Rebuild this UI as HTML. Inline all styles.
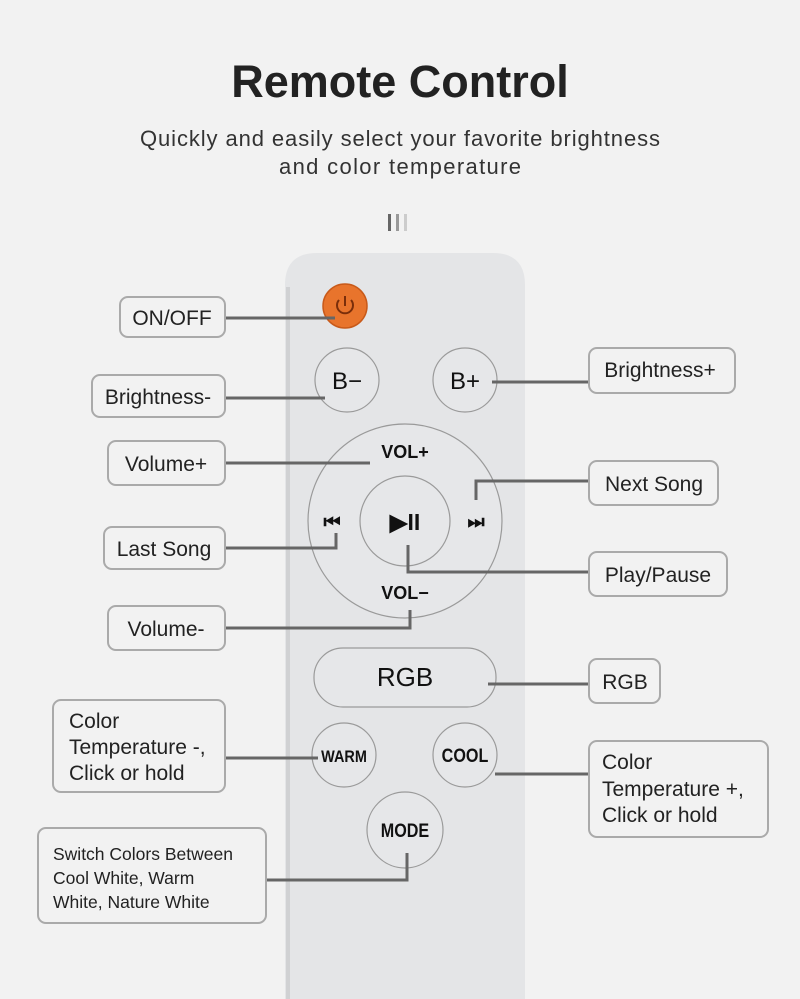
<!DOCTYPE html>
<html><head><meta charset="utf-8"><style>
body{margin:0;background:#f2f2f2;}
svg{display:block}
text{font-family:"Liberation Sans",sans-serif;}
</style></head><body>
<svg width="800" height="999" viewBox="0 0 800 999" xmlns="http://www.w3.org/2000/svg">
<rect width="800" height="999" fill="#f2f2f2"/>
<text x="400" y="97" text-anchor="middle" font-size="45" font-weight="bold" fill="#222">Remote Control</text>
<text x="400" y="146" text-anchor="middle" font-size="22" fill="#333" textLength="520" lengthAdjust="spacing">Quickly and easily select your favorite brightness</text>
<text x="400" y="174" text-anchor="middle" font-size="22" fill="#333" textLength="242" lengthAdjust="spacing">and color temperature</text>
<rect x="388" y="214" width="3" height="17" fill="#666"/><rect x="396" y="214" width="3" height="17" fill="#999"/><rect x="404" y="214" width="3" height="17" fill="#ccc"/>
<path d="M285 1000 V285 Q285 253 317 253 H493 Q525 253 525 285 V1000 Z" fill="#e4e5e7"/>
<path d="M288 1000 V287" stroke="#d0d1d3" stroke-width="4"/>
<circle cx="345" cy="306" r="22" fill="#e8742c" stroke="#c85a1a" stroke-width="1.5"/>
<path d="M339 300 A8 8 0 1 0 351 300" fill="none" stroke="#7a2e0a" stroke-width="2"/><line x1="345" y1="296" x2="345" y2="306" stroke="#7a2e0a" stroke-width="2"/>
<g fill="#e6e7e9" stroke="#9a9a9a" stroke-width="1.2">
<circle cx="347" cy="380" r="32"/><circle cx="465" cy="380" r="32"/>
<circle cx="405" cy="521" r="97"/><circle cx="405" cy="521" r="45"/>
<rect x="314" y="648" width="182" height="59" rx="29"/>
<circle cx="344" cy="755" r="32"/><circle cx="465" cy="755" r="32"/><circle cx="405" cy="830" r="38"/>
</g>
<g fill="#111" text-anchor="middle" font-weight="bold">
<text x="347" y="389" font-size="24" font-weight="normal">B−</text>
<text x="465" y="389" font-size="24" font-weight="normal">B+</text>
<text x="405" y="458" font-size="18">VOL+</text>
<text x="405" y="599" font-size="18">VOL−</text>
<text x="332" y="528" font-size="19">⏮</text>
<text x="476" y="528" font-size="19">⏭</text>
<text x="405" y="530" font-size="23">▶II</text>
<text x="405" y="686" font-size="26" font-weight="normal">RGB</text>
<text x="344" y="762" font-size="17" transform="translate(344 0) scale(0.85 1) translate(-344 0)">WARM</text>
<text x="465" y="762" font-size="19" transform="translate(465 0) scale(0.85 1) translate(-465 0)">COOL</text>
<text x="405" y="837" font-size="19" transform="translate(405 0) scale(0.85 1) translate(-405 0)">MODE</text>
</g>
<g stroke="#666" stroke-width="3" fill="none">
<path d="M225 318 H335"/>
<path d="M225 398 H325"/>
<path d="M492 382 H589"/>
<path d="M225 463 H370"/>
<path d="M589 481 H476 V500"/>
<path d="M225 548 H336 V533"/>
<path d="M589 572 H408 V545"/>
<path d="M225 628 H410 V610"/>
<path d="M488 684 H589"/>
<path d="M225 758 H318"/>
<path d="M495 774 H589"/>
<path d="M266 880 H407 V853"/>
</g>
<g fill="#f2f2f2" stroke="#aaa" stroke-width="2">
<rect x="120" y="297" width="105" height="40" rx="8"/>
<rect x="92" y="375" width="133" height="42" rx="8"/>
<rect x="589" y="348" width="146" height="45" rx="8"/>
<rect x="108" y="441" width="117" height="44" rx="8"/>
<rect x="589" y="461" width="129" height="44" rx="8"/>
<rect x="104" y="527" width="121" height="42" rx="8"/>
<rect x="589" y="552" width="138" height="44" rx="8"/>
<rect x="108" y="606" width="117" height="44" rx="8"/>
<rect x="589" y="659" width="71" height="44" rx="8"/>
<rect x="53" y="700" width="172" height="92" rx="8"/>
<rect x="589" y="741" width="179" height="96" rx="8"/>
<rect x="38" y="828" width="228" height="95" rx="8"/>
</g>
<g fill="#222" font-size="21">
<text x="172" y="325" text-anchor="middle">ON/OFF</text>
<text x="158" y="404" text-anchor="middle">Brightness-</text>
<text x="660" y="377" text-anchor="middle">Brightness+</text>
<text x="166" y="471" text-anchor="middle">Volume+</text>
<text x="654" y="491" text-anchor="middle">Next Song</text>
<text x="164" y="556" text-anchor="middle">Last Song</text>
<text x="658" y="582" text-anchor="middle">Play/Pause</text>
<text x="166" y="636" text-anchor="middle">Volume-</text>
<text x="625" y="689" text-anchor="middle">RGB</text>
<text x="69" y="728">Color</text>
<text x="69" y="754">Temperature -,</text>
<text x="69" y="780">Click or hold</text>
<text x="602" y="769">Color</text>
<text x="602" y="796">Temperature +,</text>
<text x="602" y="822">Click or hold</text>
<g font-size="17.5"><text x="53" y="860">Switch Colors Between</text>
<text x="53" y="884">Cool White, Warm</text>
<text x="53" y="908">White, Nature White</text></g>
</g>
</svg>
</body></html>
